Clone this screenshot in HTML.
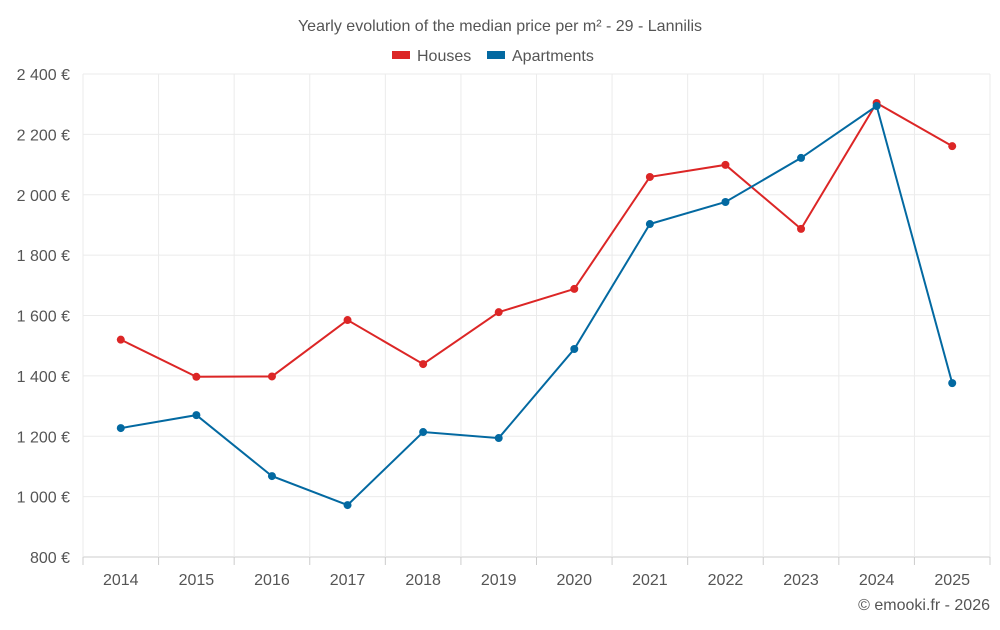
<!DOCTYPE html>
<html><head><meta charset="utf-8"><style>
body{margin:0;background:#fff;font-family:"Liberation Sans",sans-serif;}
svg text{font-family:"Liberation Sans",sans-serif;}
</style></head><body>
<svg id="chart" width="1000" height="625">
<text x="500" y="31" text-anchor="middle" font-size="16" fill="#555">Yearly evolution of the median price per m² - 29 - Lannilis</text>
<g>
<g><rect x="392" y="51" width="18" height="8" fill="#dc2626"></rect><text x="417" y="61" font-size="16" fill="#555">Houses</text></g>
<g><rect x="487" y="51" width="18" height="8" fill="#0369a1"></rect><text x="512" y="61" font-size="16" fill="#555">Apartments</text></g>
</g>
<g id="grid"></g><g id="axes"></g><g id="series"></g>
<text x="990" y="610" text-anchor="end" font-size="16" fill="#555">© emooki.fr - 2026</text>
</svg>
<script>
const years=[2014,2015,2016,2017,2018,2019,2020,2021,2022,2023,2024,2025];
const houses=[1520,1397,1398,1585,1439,1611,1688,2059,2099,1887,2304,2161];
const apartments=[1227,1270,1068,972,1214,1194,1489,1903,1976,2122,2294,1376];
const yTicks=[800,1000,1200,1400,1600,1800,2000,2200,2400];
const yTickLabels=["800 €","1 000 €","1 200 €","1 400 €","1 600 €","1 800 €","2 000 €","2 200 €","2 400 €"];
const L=83,R=990,T=74,B=557,yMin=800,yMax=2400;
const step=(R-L)/years.length;
const xs=i=>L+step*(i+0.5);
const ys=v=>B-(v-yMin)/(yMax-yMin)*(B-T);
const NS="http://www.w3.org/2000/svg";
function mk(tag,attrs,parent){const e=document.createElementNS(NS,tag);for(const k in attrs)e.setAttribute(k,attrs[k]);parent.appendChild(e);return e;}
const grid=document.getElementById('grid'),axes=document.getElementById('axes'),ser=document.getElementById('series');
yTicks.forEach((t,i)=>{
 const l=mk('line',{x1:L,x2:R,y1:ys(t),y2:ys(t),stroke:i==0?'#ccc':'#ebebeb'},grid);
 
 
 const tx=mk('text',{x:L-13,y:ys(t)+6,'text-anchor':'end','font-size':16,fill:'#555'},axes);
 tx.textContent=yTickLabels[i];
 
 
});
for(let i=0;i<=years.length;i++){
 const x=L+step*i;
 const l=mk('line',{x1:x,x2:x,y1:T,y2:B,stroke:'#ebebeb'},grid);
 
 
 const tk=mk('line',{x1:x,x2:x,y1:B,y2:B+8,stroke:'#ccc'},axes);
 
 
}
years.forEach((y,i)=>{
 const tx=mk('text',{x:xs(i),y:B+28,'text-anchor':'middle','font-size':16,fill:'#555'},axes);
 tx.textContent=y;
 
 
});
function draw(vals,color,name){
 const p=mk('polyline',{points:vals.map((v,i)=>xs(i)+','+ys(v)).join(' '),fill:'none',stroke:color,'stroke-width':2},ser);
 
 
 vals.forEach((v,i)=>{
  const c=mk('circle',{cx:xs(i),cy:ys(v),r:4,fill:color},ser);
  
  
 });
}
draw(houses,'#dc2626','houses');
draw(apartments,'#0369a1','apartments');
</script>
</body></html>
